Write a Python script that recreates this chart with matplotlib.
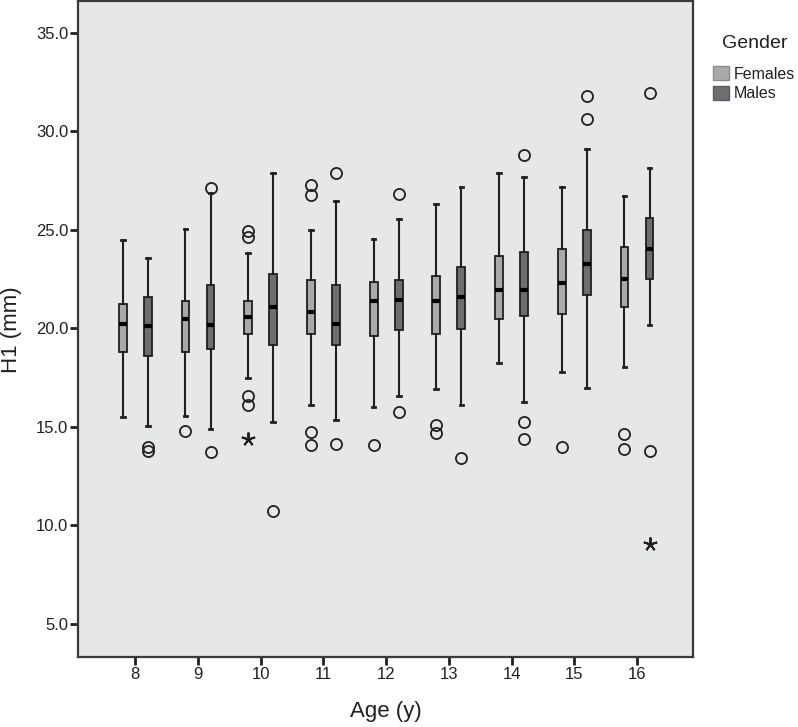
import matplotlib
matplotlib.use("Agg")
import matplotlib.pyplot as plt
from matplotlib.patches import Patch

# values (H1 in mm, per age and gender)
ages = [8, 9, 10, 11, 12, 13, 14, 15, 16]

fem_whislo = [15.5, 15.55, 17.5, 16.1, 16.0, 16.9, 18.25, 17.8, 18.05]
fem_q1 = [18.8, 18.8, 19.7, 19.7, 19.6, 19.7, 20.5, 20.75, 21.1]
fem_med = [20.2, 20.5, 20.6, 20.85, 21.4, 21.4, 21.95, 22.3, 22.5]
fem_q3 = [21.25, 21.4, 21.4, 22.45, 22.35, 22.65, 23.65, 24.05, 24.15]
fem_whishi = [24.5, 25.05, 23.85, 25.0, 24.55, 26.3, 27.9, 27.2, 26.7]
fem_out = [[], [14.8], [24.95, 24.65, 16.55, 16.1], [27.3, 26.75, 14.75, 14.1],
           [14.1], [15.1, 14.7], [], [14.0], [14.65, 13.85]]
fem_extreme = [[], [], [14.4], [], [], [], [], [], []]

male_whislo = [15.05, 14.9, 15.25, 15.35, 16.55, 16.1, 16.25, 16.95, 20.15]
male_q1 = [18.6, 18.95, 19.15, 19.15, 19.9, 19.95, 20.65, 21.7, 22.5]
male_med = [20.1, 20.15, 21.1, 20.2, 21.45, 21.6, 21.95, 23.25, 24.05]
male_q3 = [21.6, 22.2, 22.75, 22.2, 22.45, 23.1, 23.9, 25.0, 25.6]
male_whishi = [23.55, 26.85, 27.9, 26.45, 25.55, 27.2, 27.7, 29.1, 28.15]
male_out = [[13.95, 13.78], [27.15, 13.72], [10.7], [27.9, 14.12], [26.8, 15.75],
            [13.4], [28.8, 15.25, 14.4], [31.8, 30.65], [31.95, 13.78]]
male_extreme = [[], [], [], [], [], [], [], [], [9.05]]

bg = "#e6e7e8"
ink = "#231f20"
fem_col = "#a7a9ac"
male_col = "#6d6e71"


def make_stats(lo, q1, med, q3, hi, out):
    return [dict(whislo=a, q1=b, med=c, q3=d, whishi=e, fliers=f)
            for a, b, c, d, e, f in zip(lo, q1, med, q3, hi, out)]


plt.rcParams["font.family"] = ["Liberation Sans", "DejaVu Sans"]

fig = plt.figure(figsize=(7.98, 7.27), dpi=100)
ax = fig.add_axes([0.098, 0.096, 0.771, 0.902])
ax.set_facecolor(bg)

groups = [
    (make_stats(fem_whislo, fem_q1, fem_med, fem_q3, fem_whishi, fem_out), fem_extreme, -0.2, fem_col),
    (make_stats(male_whislo, male_q1, male_med, male_q3, male_whishi, male_out), male_extreme, 0.2, male_col),
]

for stats, extreme, off, col in groups:
    pos = [a + off for a in ages]
    ax.bxp(stats, positions=pos, widths=0.125, patch_artist=True, manage_ticks=False,
           boxprops=dict(facecolor=col, edgecolor=ink, linewidth=1.3),
           medianprops=dict(color="black", linewidth=3, solid_capstyle="butt"),
           whiskerprops=dict(color=ink, linewidth=1.5),
           capprops=dict(color=ink, linewidth=2),
           capwidths=0.06,
           flierprops=dict(marker="o", markerfacecolor="none", markeredgecolor=ink,
                           markersize=8, markeredgewidth=1.3))
    for p, vals in zip(pos, extreme):
        if vals:
            ax.plot([p] * len(vals), vals, linestyle="none", marker=(5, 2, 0),
                    markersize=10, markeredgewidth=1.4, color=ink)

ax.set_xlim(7.09, 16.9)
ax.set_ylim(3.3, 36.6)
ax.set_xticks(ages)
ax.set_yticks([5, 10, 15, 20, 25, 30, 35])
ax.set_yticklabels([f"{v:.1f}" for v in [5, 10, 15, 20, 25, 30, 35]])
ax.tick_params(axis="both", direction="out", length=6, width=2, color=ink,
               labelsize=12, labelcolor=ink, pad=1)
for s in ax.spines.values():
    s.set_color("#3a3a3a")
    s.set_linewidth(1.6)

ax.set_xlabel("Age (y)", fontsize=16, color=ink, labelpad=14)
ax.set_ylabel("H1 (mm)", fontsize=16, color=ink, labelpad=10)

fig.text(0.905, 0.94, "Gender", fontsize=14, color=ink, ha="left", va="center")
handles = [Patch(facecolor=fem_col, edgecolor="#8a8b8d", label="Females"),
           Patch(facecolor=male_col, edgecolor="#5c5d60", label="Males")]
leg = fig.legend(handles=handles, loc="upper left",
                 bbox_to_anchor=(0.886, 0.918), frameon=False, fontsize=11.5,
                 handlelength=1.0, handleheight=1.0,
                 handletextpad=0.3, labelspacing=0.25, borderaxespad=0)
for t in leg.get_texts():
    t.set_color(ink)

fig.savefig("out.png", dpi=100)
